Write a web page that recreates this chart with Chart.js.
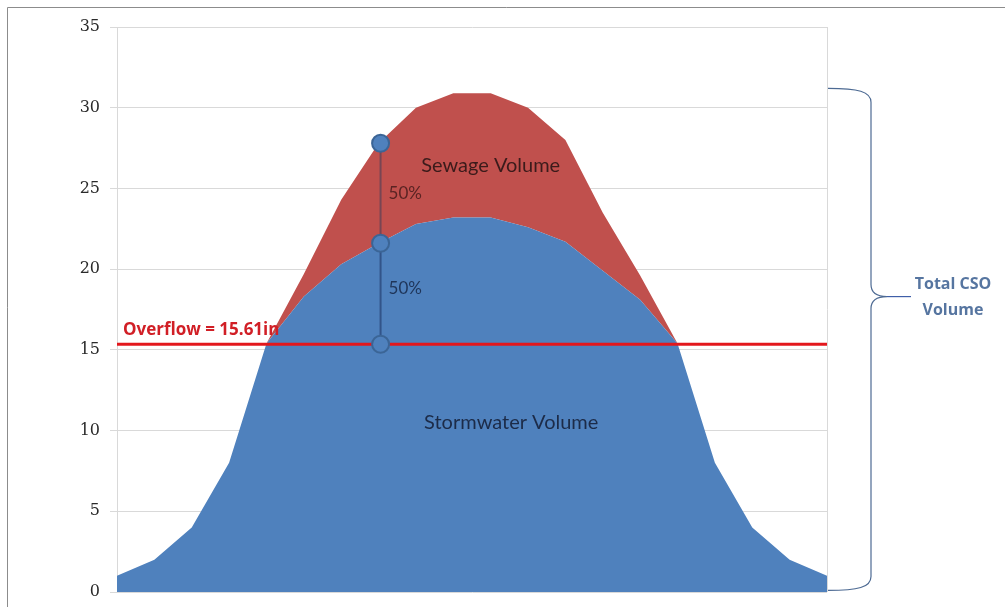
<!DOCTYPE html>
<html>
<head>
<meta charset="utf-8">
<script src="https://cdn.jsdelivr.net/npm/chart.js@4.4.1/dist/chart.umd.min.js"></script>
<style>
    html, body { margin: 0; padding: 0; background: #fff; }
    #wrap { width: 1005px; height: 607px; position: relative; }
</style>
</head>
<body>
<div id="wrap"><canvas id="csoChart" width="1005" height="607"></canvas></div>
<script>
// time steps of the storm (no labels shown on the axis)
const categories = ['1','2','3','4','5','6','7','8','9','10','11','12','13','14','15','16','17','18','19','20'];

// volumes
const stormwaterVolume = [1.0, 2.0, 4.0, 8.0, 15.4, 18.3, 20.3, 21.6, 22.8, 23.2, 23.2, 22.6, 21.7, 19.9, 18.1, 15.4, 8.0, 4.0, 2.0, 1.0];
const sewageVolume     = [0, 0, 0, 0, 0, 1.4, 4.0, 6.2, 7.2, 7.7, 7.7, 7.4, 6.3, 3.6, 1.5, 0, 0, 0, 0, 0];

const yTicks = [0, 5, 10, 15, 20, 25, 30, 35];

const overflowLevel = 15.35;
const overflowLabel = 'Overflow = 15.61in';
const markIdx = 7;          // where the 50% / 50% marker sits
const braceTop = 31.2;
const braceBottom = 0.1;
const braceTip = 18.3;

const annotations = {
    id: 'annotations',
    beforeDraw(chart) {
        const ctx = chart.ctx;
        ctx.save();
        ctx.strokeStyle = '#8c8c8c';
        ctx.lineWidth = 1;
        ctx.beginPath();
        ctx.moveTo(7.5, 607);
        ctx.lineTo(7.5, 7.5);
        ctx.lineTo(1005, 7.5);
        ctx.stroke();
        ctx.restore();
    },
    afterDatasetsDraw(chart) {
        const ctx = chart.ctx;
        const area = chart.chartArea;
        const xs = chart.scales.x;
        const ys = chart.scales.y;

        ctx.save();

        // right edge of plot area
        ctx.strokeStyle = '#d9d9d9';
        ctx.lineWidth = 1;
        ctx.beginPath();
        ctx.moveTo(area.right + 0.5, area.top);
        ctx.lineTo(area.right + 0.5, area.bottom);
        ctx.stroke();

        // overflow line
        const yOver = ys.getPixelForValue(overflowLevel);
        ctx.strokeStyle = '#e3171c';
        ctx.lineWidth = 3;
        ctx.beginPath();
        ctx.moveTo(area.left, yOver);
        ctx.lineTo(area.right, yOver);
        ctx.stroke();

        ctx.fillStyle = '#d11f26';
        ctx.font = "bold 17px 'Open Sans'";
        ctx.textAlign = 'left';
        ctx.textBaseline = 'alphabetic';
        ctx.fillText(overflowLabel, area.left + 6, yOver - 9);

        // marker
        const total = stormwaterVolume[markIdx] + sewageVolume[markIdx];
        const mx = xs.getPixelForValue(markIdx) + 2;
        const yTopM = ys.getPixelForValue(total);
        const yMidM = ys.getPixelForValue(stormwaterVolume[markIdx]);

        ctx.lineWidth = 2;
        ctx.strokeStyle = 'rgba(60, 60, 90, 0.55)';
        ctx.beginPath();
        ctx.moveTo(mx, yTopM);
        ctx.lineTo(mx, yMidM);
        ctx.stroke();
        ctx.strokeStyle = 'rgba(40, 70, 120, 0.75)';
        ctx.beginPath();
        ctx.moveTo(mx, yMidM);
        ctx.lineTo(mx, yOver);
        ctx.stroke();

        [yTopM, yMidM, yOver].forEach(cy => {
            ctx.beginPath();
            ctx.arc(mx, cy, 8.5, 0, Math.PI * 2);
            ctx.fillStyle = '#4f81bd';
            ctx.fill();
            ctx.lineWidth = 2;
            ctx.strokeStyle = '#3b6596';
            ctx.stroke();
        });

        ctx.font = '17px Lato';
        ctx.textBaseline = 'middle';
        ctx.textAlign = 'left';
        ctx.fillStyle = '#5a2323';
        ctx.fillText('50%', mx + 8, (yTopM + yMidM) / 2);
        ctx.fillStyle = '#1f3559';
        ctx.fillText('50%', mx + 8, (yMidM + yOver) / 2 - 5);

        // area labels
        ctx.textAlign = 'center';
        ctx.font = '20px Lato';
        ctx.fillStyle = '#3b1b1b';
        ctx.fillText('Sewage Volume', xs.getPixelForValue(10), ys.getPixelForValue(26.4));
        ctx.fillStyle = '#1c2b48';
        ctx.fillText('Stormwater Volume', xs.getPixelForValue(10.55), ys.getPixelForValue(10.5));

        // brace
        const x0 = area.right + 1;
        const x1 = x0 + 43;
        const tipX = x1 + 40;
        const bTop = ys.getPixelForValue(braceTop);
        const bBot = ys.getPixelForValue(braceBottom);
        const bMid = ys.getPixelForValue(braceTip);
        ctx.strokeStyle = '#4d6a93';
        ctx.lineWidth = 1.2;
        ctx.beginPath();
        ctx.moveTo(x0, bTop);
        ctx.bezierCurveTo(x0 + 30, bTop, x1, bTop + 3, x1, bTop + 14);
        ctx.lineTo(x1, bMid - 12);
        ctx.bezierCurveTo(x1, bMid - 3, x1 + 6, bMid, x1 + 16, bMid);
        ctx.bezierCurveTo(x1 + 6, bMid, x1, bMid + 3, x1, bMid + 12);
        ctx.lineTo(x1, bBot - 14);
        ctx.bezierCurveTo(x1, bBot - 3, x0 + 30, bBot, x0, bBot);
        ctx.stroke();
        ctx.strokeStyle = '#3f5fa8';
        ctx.beginPath();
        ctx.moveTo(x1 + 16, bMid);
        ctx.lineTo(tipX, bMid);
        ctx.stroke();

        ctx.fillStyle = '#5675a0';
        ctx.font = "bold 16px 'Open Sans'";
        ctx.textAlign = 'center';
        ctx.fillText('Total CSO', tipX + 42, bMid - 12);
        ctx.fillText('Volume', tipX + 42, bMid + 14);

        ctx.restore();
    }
};

const ctx = document.getElementById('csoChart').getContext('2d');

new Chart(ctx, {
    type: 'line',
    data: {
        labels: categories,
        datasets: [
            {
                label: 'Stormwater Volume',
                data: stormwaterVolume,
                backgroundColor: '#4f81bd',
                borderColor: 'rgba(0,0,0,0)',
                borderWidth: 0,
                pointRadius: 0,
                fill: 'origin',
                tension: 0,
                order: 1
            },
            {
                label: 'Sewage Volume',
                data: sewageVolume,
                backgroundColor: '#c0504d',
                borderColor: 'rgba(0,0,0,0)',
                borderWidth: 0,
                pointRadius: 0,
                fill: '-1',
                tension: 0,
                order: 2
            }
        ]
    },
    options: {
        responsive: false,
        animation: false,
        events: [],
        layout: { padding: { left: 0, top: 27, right: 178, bottom: 15 } },
        plugins: {
            legend: { display: false },
            tooltip: { enabled: false }
        },
        scales: {
            x: {
                display: false,
                offset: false
            },
            y: {
                stacked: true,
                min: 0,
                max: 35,
                afterFit: s => {
                    s.width = 117;
                    s.paddingTop = 0;
                    s.paddingBottom = 0;
                },
                afterBuildTicks: s => { s.ticks = yTicks.map(v => ({ value: v })); },
                grid: { color: '#d9d9d9', tickLength: 7, drawTicks: true },
                border: { color: '#d9d9d9' },
                ticks: {
                    color: '#2a2a2a',
                    padding: 10,
                    font: { family: "'DejaVu Serif', serif", size: 16 }
                }
            }
        }
    },
    plugins: [annotations]
});
</script>
</body>
</html>
